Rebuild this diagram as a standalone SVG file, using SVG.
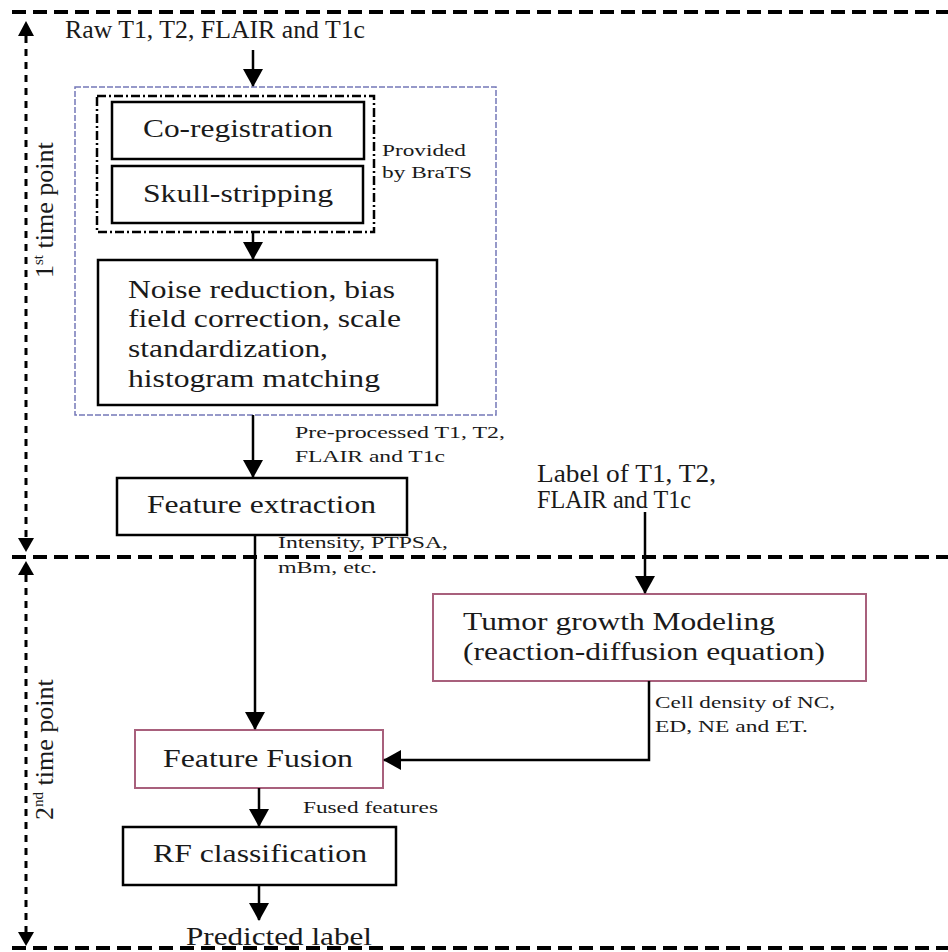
<svg xmlns="http://www.w3.org/2000/svg" width="948" height="952" viewBox="0 0 948 952">
<defs>
<marker id="ah" markerUnits="userSpaceOnUse" markerWidth="20" markerHeight="20" viewBox="0 0 18 20" refX="17" refY="10" orient="auto">
<path d="M0,0 L18,10 L0,20 z" fill="#000"/>
</marker>
<style>
text{font-family:"Liberation Serif","Times New Roman",serif;fill:#1a1a1a}
.big{font-size:25px}
.sm{font-size:17px}
.box{fill:#fff;stroke:#000;stroke-width:2.5}
.pbox{fill:#fff;stroke:#a8607c;stroke-width:2}
.conn{fill:none;stroke:#000;stroke-width:2.5;marker-end:url(#ah)}
.hd{fill:none;stroke:#000;stroke-width:4;stroke-dasharray:14 7}
.vd{fill:none;stroke:#000;stroke-width:3;stroke-dasharray:7 6}
</style>
</defs>
<rect width="948" height="952" fill="#fff"/>

<g id="timeline">
<line class="hd" x1="12" y1="12" x2="948" y2="12"/>
<line class="hd" x1="12" y1="557" x2="948" y2="557"/>
<line class="hd" x1="12" y1="948" x2="948" y2="948"/>
<line class="vd" x1="26" y1="36" x2="26" y2="538"/>
<polygon points="26,21 18,36 34,36" fill="#000"/>
<polygon points="26,552 18,538 34,538" fill="#000"/>
<line class="vd" x1="26" y1="575" x2="26" y2="932"/>
<polygon points="26,561 18,575 34,575" fill="#000"/>
<polygon points="26,946 18,932 34,932" fill="#000"/>
<text transform="translate(53,278) rotate(-90)" style="font-size:26px">1<tspan style="font-size:15px" dy="-10">st</tspan><tspan dy="10"> time point</tspan></text>
<text transform="translate(53,820) rotate(-90)" style="font-size:26px">2<tspan style="font-size:15px" dy="-10">nd</tspan><tspan dy="10"> time point</tspan></text>
</g>

<g id="raw-input">
<text class="big" x="65" y="38" textLength="300" lengthAdjust="spacingAndGlyphs">Raw T1, T2, FLAIR and T1c</text>
</g>

<g id="preprocessing-group">
<rect x="75" y="87" width="421" height="328" fill="none" stroke="#7478b8" stroke-width="1.5" stroke-dasharray="6 2"/>
</g>

<g id="brats-group">
<rect x="97" y="96" width="277" height="136" fill="none" stroke="#000" stroke-width="2.5" stroke-dasharray="9 3 2 3"/>
<text class="sm" x="382" y="156" textLength="84" lengthAdjust="spacingAndGlyphs">Provided</text>
<text class="sm" x="382" y="178" textLength="90" lengthAdjust="spacingAndGlyphs">by BraTS</text>
</g>

<g id="co-registration">
<rect class="box" x="112" y="102" width="252" height="57"/>
<text class="big" x="143" y="137" textLength="190" lengthAdjust="spacingAndGlyphs">Co-registration</text>
</g>

<g id="skull-stripping">
<rect class="box" x="112" y="166" width="251" height="57"/>
<text class="big" x="143" y="202" textLength="190" lengthAdjust="spacingAndGlyphs">Skull-stripping</text>
</g>

<g id="noise-reduction">
<rect class="box" x="98" y="260" width="339" height="145"/>
<text class="big" x="128" y="298" textLength="267" lengthAdjust="spacingAndGlyphs">Noise reduction, bias</text>
<text class="big" x="128" y="327" textLength="273" lengthAdjust="spacingAndGlyphs">field correction, scale</text>
<text class="big" x="128" y="357" textLength="200" lengthAdjust="spacingAndGlyphs">standardization,</text>
<text class="big" x="128" y="387" textLength="252" lengthAdjust="spacingAndGlyphs">histogram matching</text>
</g>

<g id="feature-extraction">
<rect class="box" x="117" y="478" width="290" height="57"/>
<text class="big" x="147" y="513" textLength="229" lengthAdjust="spacingAndGlyphs">Feature extraction</text>
</g>

<g id="label-input">
<text class="big" x="537" y="482" textLength="179" lengthAdjust="spacingAndGlyphs">Label of T1, T2,</text>
<text class="big" x="537" y="508" textLength="154" lengthAdjust="spacingAndGlyphs">FLAIR and T1c</text>
</g>

<g id="tumor-growth">
<rect class="pbox" x="433" y="594" width="433" height="87"/>
<text class="big" x="463" y="630" textLength="312" lengthAdjust="spacingAndGlyphs">Tumor growth Modeling</text>
<text class="big" x="463" y="660" textLength="362" lengthAdjust="spacingAndGlyphs">(reaction-diffusion equation)</text>
</g>

<g id="feature-fusion">
<rect class="pbox" x="135" y="730" width="248" height="58"/>
<text class="big" x="163" y="767" textLength="190" lengthAdjust="spacingAndGlyphs">Feature Fusion</text>
</g>

<g id="rf-classification">
<rect class="box" x="123" y="827" width="273" height="58"/>
<text class="big" x="153" y="862" textLength="214" lengthAdjust="spacingAndGlyphs">RF classification</text>
</g>

<g id="predicted-label">
<text class="big" x="186" y="945" textLength="186" lengthAdjust="spacingAndGlyphs">Predicted label</text>
</g>

<g id="connectors">
<line class="conn" x1="253" y1="50" x2="253" y2="86"/>
<line class="conn" x1="253" y1="232" x2="253" y2="259"/>
<line class="conn" x1="253" y1="415" x2="253" y2="477"/>
<line class="conn" x1="255" y1="535" x2="255" y2="729"/>
<line class="conn" x1="645" y1="512" x2="645" y2="593"/>
<polyline class="conn" points="649,681 649,760 384,760"/>
<line class="conn" x1="259" y1="788" x2="259" y2="826"/>
<line class="conn" x1="259" y1="885" x2="259" y2="920"/>
<text class="sm" x="295" y="438" textLength="210" lengthAdjust="spacingAndGlyphs">Pre-processed T1, T2,</text>
<text class="sm" x="295" y="462" textLength="150" lengthAdjust="spacingAndGlyphs">FLAIR and T1c</text>
<text class="sm" x="278" y="548" textLength="170" lengthAdjust="spacingAndGlyphs">Intensity, PTPSA,</text>
<text class="sm" x="278" y="573" textLength="99" lengthAdjust="spacingAndGlyphs">mBm, etc.</text>
<text class="sm" x="655" y="708" textLength="180" lengthAdjust="spacingAndGlyphs">Cell density of NC,</text>
<text class="sm" x="655" y="732" textLength="153" lengthAdjust="spacingAndGlyphs">ED, NE and ET.</text>
<text class="sm" x="303" y="813" textLength="135" lengthAdjust="spacingAndGlyphs">Fused features</text>
</g>
</svg>
